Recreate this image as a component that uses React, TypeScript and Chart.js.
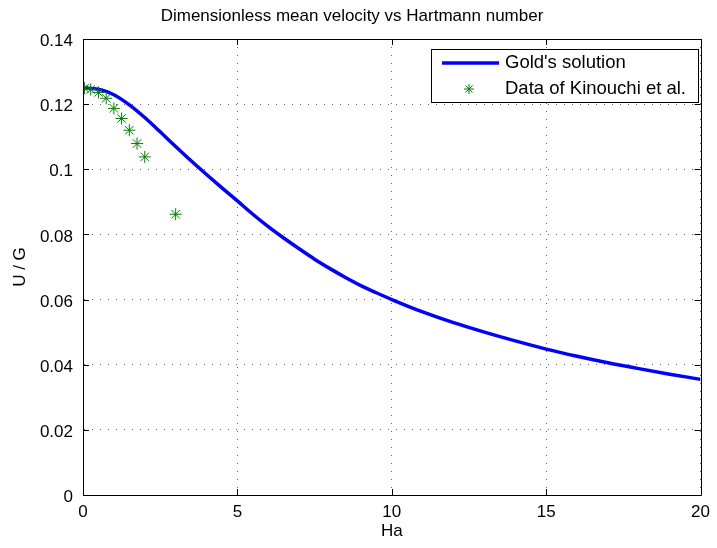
import React, { useEffect, useRef } from 'react';
import { Chart, registerables } from 'chart.js';

Chart.register(...registerables);

const titleText = 'Dimensionless mean velocity vs Hartmann number';
const xTitle = 'Ha';
const yTitle = 'U / G';
const seriesLabels = ["Gold's solution", 'Data of Kinouchi et al.'];

const goldHa = [0, 0.5, 1, 1.5, 2, 2.5, 3, 3.5, 4, 4.5, 5, 5.5, 6, 6.5, 7, 7.5, 8, 8.5, 9, 9.5, 10, 11, 12, 13, 14, 15, 16, 17, 18, 19, 20];
const goldU = [0.125, 0.1246, 0.1229, 0.1198, 0.1159, 0.1115, 0.107, 0.1026, 0.0984, 0.0943, 0.0903, 0.0862, 0.0824, 0.0789, 0.0756, 0.0724, 0.0695, 0.0668, 0.0643, 0.0621, 0.06, 0.0562, 0.0529, 0.05, 0.0473, 0.0448, 0.0426, 0.0406, 0.0388, 0.0371, 0.0355];

const kinHa = [0.05, 0.25, 0.5, 0.75, 1, 1.25, 1.5, 1.75, 2, 3];
const kinU = [0.1249, 0.1245, 0.1236, 0.1218, 0.1187, 0.1156, 0.112, 0.1079, 0.1038, 0.0862];

const xMin = 0;
const xMax = 20;
const xStep = 5;
const yMin = 0;
const yMax = 0.14;
const yStep = 0.02;

const FONT = "'Liberation Sans', Arial, Helvetica, sans-serif";

const framePlugin = {
  id: 'frame',
  afterDraw(chart: any) {
    const { ctx, chartArea } = chart;
    const { left, right, top, bottom } = chartArea;
    const xs = chart.scales.x;
    const ys = chart.scales.y;
    const r = (v: number) => Math.round(v) + 0.5;
    ctx.save();
    ctx.strokeStyle = '#000';
    ctx.lineWidth = 1;
    ctx.setLineDash([]);
    ctx.beginPath();
    ctx.rect(r(left), r(top), Math.round(right) - Math.round(left), Math.round(bottom) - Math.round(top));
    ctx.stroke();
    const tl = 6;
    ctx.beginPath();
    xs.ticks.forEach((t: any) => {
      const px = r(xs.getPixelForValue(t.value));
      ctx.moveTo(px, bottom);
      ctx.lineTo(px, bottom - tl);
      ctx.moveTo(px, top);
      ctx.lineTo(px, top + tl);
    });
    ys.ticks.forEach((t: any) => {
      const py = r(ys.getPixelForValue(t.value));
      ctx.moveTo(left, py);
      ctx.lineTo(left + tl, py);
      ctx.moveTo(right, py);
      ctx.lineTo(right - tl, py);
    });
    ctx.stroke();

    // legend
    const ds = chart.data.datasets;
    ctx.font = `18.5px ${FONT}`;
    const textW = Math.max(...ds.map((d: any) => ctx.measureText(d.label).width));
    const boxW = Math.round(74 + textW + 12);
    const boxH = 53;
    const bx = Math.round(right - 3 - boxW);
    const by = Math.round(top + 10);
    ctx.fillStyle = '#fff';
    ctx.fillRect(bx, by, boxW, boxH);
    ctx.strokeStyle = '#000';
    ctx.strokeRect(bx + 0.5, by + 0.5, boxW, boxH);
    const y1 = by + 14;
    const y2 = by + 40;
    // line sample
    ctx.strokeStyle = ds[0].borderColor;
    ctx.lineWidth = ds[0].borderWidth;
    ctx.beginPath();
    ctx.moveTo(bx + 11, y1);
    ctx.lineTo(bx + 68, y1);
    ctx.stroke();
    // star sample
    const sx = bx + 38;
    const rad = 5;
    ctx.strokeStyle = ds[1].borderColor;
    ctx.lineWidth = 1;
    ctx.beginPath();
    ctx.moveTo(sx - rad, y2);
    ctx.lineTo(sx + rad, y2);
    ctx.moveTo(sx, y2 - rad);
    ctx.lineTo(sx, y2 + rad);
    const d = rad * Math.SQRT1_2;
    ctx.moveTo(sx - d, y2 - d);
    ctx.lineTo(sx + d, y2 + d);
    ctx.moveTo(sx - d, y2 + d);
    ctx.lineTo(sx + d, y2 - d);
    ctx.stroke();
    ctx.fillStyle = '#000';
    ctx.textBaseline = 'middle';
    ctx.textAlign = 'left';
    ctx.fillText(ds[0].label, bx + 74, y1);
    ctx.fillText(ds[1].label, bx + 74, y2);
    ctx.restore();
  },
};

export default function App() {
  const ref = useRef<HTMLCanvasElement | null>(null);
  useEffect(() => {
    if (!ref.current) return;
    Chart.defaults.font.family = FONT;
    Chart.defaults.font.size = 17;
    Chart.defaults.color = '#000';
    const chart = new Chart(ref.current, {
      type: 'scatter',
      data: {
        datasets: [
          {
            label: seriesLabels[0],
            data: goldHa.map((x, i) => ({ x, y: goldU[i] })),
            showLine: true,
            borderColor: '#0000ff',
            backgroundColor: '#0000ff',
            borderWidth: 3.5,
            pointRadius: 0,
            cubicInterpolationMode: 'monotone',
            order: 2,
          } as any,
          {
            label: seriesLabels[1],
            data: kinHa.map((x, i) => ({ x, y: kinU[i] })),
            showLine: false,
            borderColor: '#008000',
            backgroundColor: '#008000',
            borderWidth: 1,
            pointStyle: 'star',
            pointRadius: 6,
            order: 1,
          } as any,
        ],
      },
      options: {
        responsive: false,
        animation: false,
        devicePixelRatio: 1,
        layout: { padding: { left: 0, right: 13, top: 0, bottom: 0 } },
        plugins: {
          legend: { display: false },
          tooltip: { enabled: false },
          title: {
            display: true,
            text: titleText,
            color: '#000',
            font: { size: 17, weight: 'normal', family: FONT },
            padding: { top: 6, bottom: 12.6 },
          },
        },
        scales: {
          x: {
            type: 'linear',
            min: xMin,
            max: xMax,
            afterFit: (s: any) => { s.height = 53; },
            ticks: { stepSize: xStep, padding: 7, maxRotation: 0, color: '#000', font: { size: 17 } },
            grid: { color: '#666', lineWidth: 1, drawTicks: false },
            border: { display: true, color: '#000', dash: [1, 7] },
            title: { display: true, text: xTitle, color: '#000', font: { size: 17 }, padding: { top: 0, bottom: 6 } },
          },
          y: {
            type: 'linear',
            min: yMin,
            max: yMax,
            afterFit: (s: any) => { s.width = 83; },
            ticks: {
              stepSize: yStep,
              padding: 10,
              labelOffset: 2.5,
              color: '#000',
              font: { size: 17 },
              callback: (v: any) => String(Number(Number(v).toFixed(2))),
            },
            grid: { color: '#666', lineWidth: 1, drawTicks: false },
            border: { display: true, color: '#000', dash: [1, 7] },
            title: { display: true, text: yTitle, color: '#000', font: { size: 17 }, padding: { top: 10, bottom: 0 } },
          },
        },
      } as any,
      plugins: [framePlugin],
    });
    return () => chart.destroy();
  }, []);
  return (
    <div style={{ position: 'absolute', left: 0, top: 0, width: 717, height: 548, background: '#fff' }}>
      <canvas ref={ref} width={717} height={548} style={{ width: 717, height: 548, display: 'block' }} />
    </div>
  );
}
